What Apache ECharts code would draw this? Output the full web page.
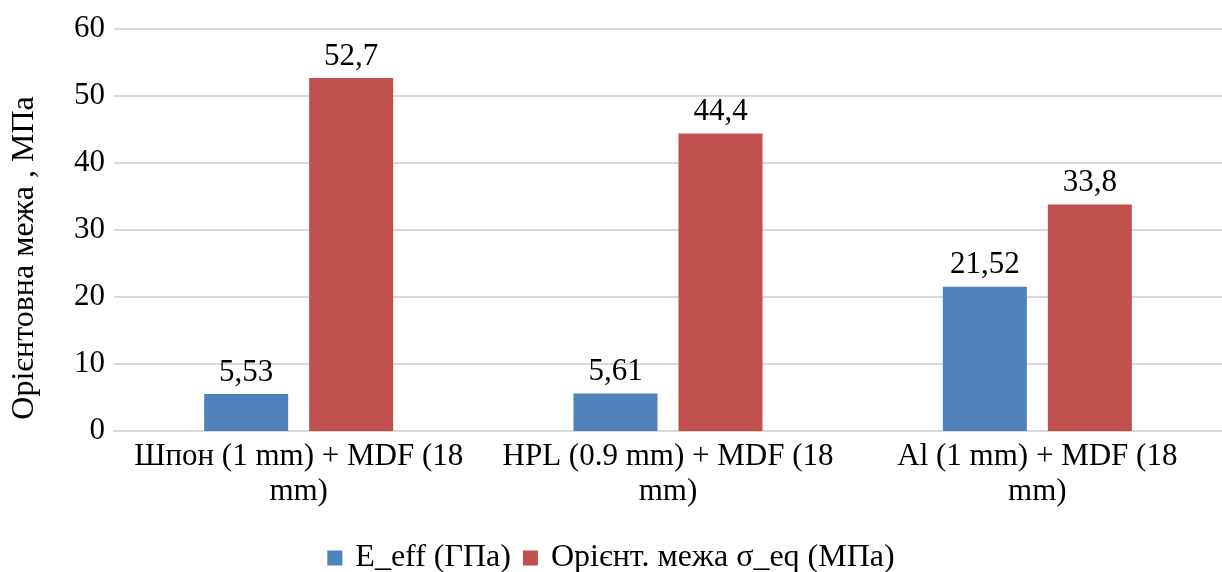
<!DOCTYPE html>
<html><head><meta charset="utf-8">
<script src="https://cdn.jsdelivr.net/npm/echarts@6/dist/echarts.min.js"></script>
<style>html,body{margin:0;padding:0;background:#fff}#c{width:1222px;height:572px}</style>
</head><body><div id="c"></div>
<script>
const categories = ["Шпон (1 mm) + MDF (18\nmm)", "HPL (0.9 mm) + MDF (18\nmm)", "Al (1 mm) + MDF (18\nmm)"];
const seriesNames = ["E_eff (ГПа)", "Орієнт. межа σ_eq (МПа)"];
const eEff = [5.53, 5.61, 21.52];
const sigmaEq = [52.7, 44.4, 33.8];
const yTicks = {min: 0, max: 60, interval: 10};
const yName = "Орієнтовна межа , МПа";

const F = '"Liberation Serif", "DejaVu Serif", serif';
const FS = 31;
const fmt = p => String(p.value).replace('.', ',');
const chart = echarts.init(document.getElementById('c'));
chart.setOption({
  animation: false,
  textStyle: {fontFamily: F},
  grid: {left: 114, right: 0, top: 29, bottom: 141, outerBoundsMode: 'none', containLabel: false},
  legend: {
    bottom: -7, left: 'center', itemWidth: 15, itemHeight: 15, itemGap: 12,
    icon: 'rect',
    textStyle: {fontFamily: F, fontSize: 32, color: '#000', padding: [0, 0, 0, 8]},
    data: seriesNames
  },
  xAxis: {
    type: 'category', data: categories,
    axisTick: {show: false},
    axisLine: {lineStyle: {color: '#d9d9d9', width: 2}},
    axisLabel: {fontFamily: F, fontSize: FS, color: '#000', lineHeight: 35, margin: 8, interval: 0}
  },
  yAxis: {
    type: 'value', min: yTicks.min, max: yTicks.max, interval: yTicks.interval,
    name: yName, nameLocation: 'middle', nameGap: 73, nameRotate: 90,
    nameTextStyle: {fontFamily: F, fontSize: 32, color: '#000', padding: [0, 56, 0, 0]},
    axisLine: {show: false}, axisTick: {show: false},
    splitLine: {lineStyle: {color: '#d9d9d9', width: 2}},
    axisLabel: {fontFamily: F, fontSize: FS, color: '#000', margin: 9}
  },
  series: [
    {name: seriesNames[0], type: 'bar', data: eEff, barWidth: 84, barGap: '25%',
     itemStyle: {color: '#4f81bd'},
     label: {show: true, position: 'top', distance: 6, formatter: fmt, fontFamily: F, fontSize: FS, color: '#000'}},
    {name: seriesNames[1], type: 'bar', data: sigmaEq, barWidth: 84,
     itemStyle: {color: '#c0504d'},
     label: {show: true, position: 'top', distance: 6, formatter: fmt, fontFamily: F, fontSize: FS, color: '#000'}}
  ]
});
</script></body></html>
